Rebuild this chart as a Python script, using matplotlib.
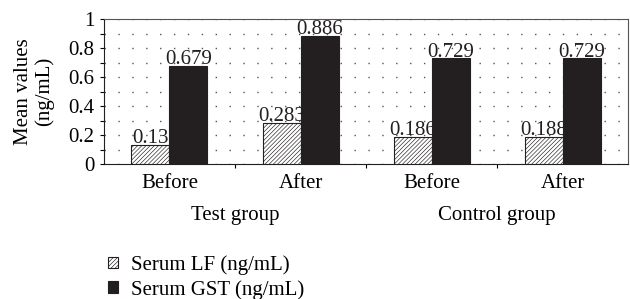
import matplotlib.pyplot as plt
import numpy as np

categories = ["Before", "After", "Before", "After"]
groups = ["Test group", "Control group"]
lf = [0.13, 0.283, 0.186, 0.188]
gst = [0.679, 0.886, 0.729, 0.729]
lf_labels = ["0.13", "0.283", "0.186", "0.188"]
gst_labels = ["0.679", "0.886", "0.729", "0.729"]

plt.rcParams['font.family'] = ['Liberation Serif', 'DejaVu Serif']
plt.rcParams['hatch.linewidth'] = 0.45
plt.rcParams['hatch.color'] = '#231f20'

fig = plt.figure(figsize=(6.3, 2.99), dpi=100)
ax = fig.add_axes([0.165, 0.4515, 0.832, 0.4845])

x = np.arange(len(categories))
w = 0.29
b1 = ax.bar(x - w / 2, lf, w, color='white', edgecolor='#231f20', hatch='////////',
            linewidth=0.8, label="Serum LF (ng/mL)", zorder=3)
b2 = ax.bar(x + w / 2, gst, w, color='#231f20', edgecolor='#231f20',
            linewidth=0.8, label="Serum GST (ng/mL)", zorder=3)

fs = 15
for xi, v, t in zip(x - w / 2, lf, lf_labels):
    ax.text(xi, v + 0.012, t, ha='center', va='baseline', fontsize=fs, color='#231f20', zorder=4)
for xi, v, t in zip(x + w / 2, gst, gst_labels):
    ax.text(xi, v + 0.012, t, ha='center', va='baseline', fontsize=fs, color='#231f20', zorder=4)

ax.set_xlim(-0.5, 3.5)
ax.set_ylim(0, 1)
ax.set_yticks([0, 0.2, 0.4, 0.6, 0.8, 1])
ax.set_yticklabels(["0", "0.2", "0.4", "0.6", "0.8", "1"])
ax.set_yticks(np.arange(0.1, 1.0, 0.2), minor=True)
ax.yaxis.grid(True, which='both', linestyle=(0, (1, 9)), color='#555555', linewidth=1.0, zorder=0)
ax.tick_params(axis='y', which='both', direction='out', length=3, width=0.8, labelsize=fs, pad=4)

ax.set_xticks(x)
ax.set_xticklabels(categories, fontsize=fs)
ax.set_xticks([0.5, 1.5, 2.5], minor=True)
ax.tick_params(axis='x', which='major', length=0, pad=7)
ax.tick_params(axis='x', which='minor', direction='out', length=3, width=0.8)

for s in ax.spines.values():
    s.set_color('#555555')
    s.set_linewidth(0.8)
ax.spines['bottom'].set_color('#231f20')
ax.spines['left'].set_color('#231f20')

for gx, g in zip([0.5, 2.5], groups):
    ax.text(gx, -0.29, g, transform=ax.get_xaxis_transform(), ha='center', va='top', fontsize=fs)

ax.set_ylabel("Mean values\n(ng/mL)", fontsize=fs, linespacing=1.1, labelpad=10)

fig.legend(handles=[b1, b2], loc='center left', bbox_to_anchor=(0.171, 0.072), frameon=False,
           fontsize=fs, handlelength=0.5, handleheight=0.5, handletextpad=0.6, labelspacing=0.25,
           borderaxespad=0, borderpad=0)

fig.savefig("out.png", dpi=100)
